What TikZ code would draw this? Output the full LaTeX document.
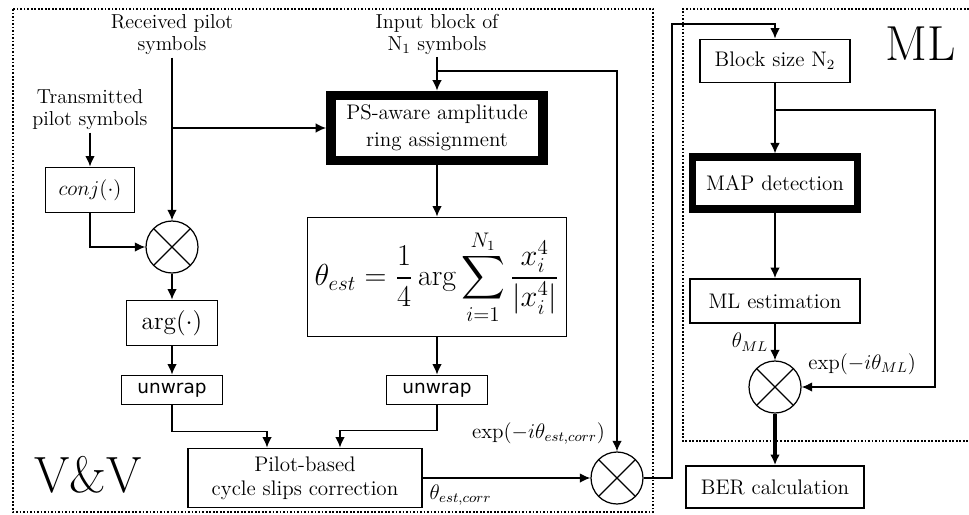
\documentclass[tikz,border=0pt]{standalone}
\usepackage{fontspec}
\usepackage{amsmath}
\usetikzlibrary{arrows.meta}
\newfontfamily\uwfont{DejaVu Sans}
\tikzset{
	blk/.style={draw, rectangle, align=center, inner sep=1pt},
	thk/.style={blk, line width=5.5pt},
	uw/.style={blk, minimum width=2.02cm, minimum height=0.58cm, font=\uwfont\fontsize{10.5}{12}\selectfont},
	mult/.style={draw, circle, line width=0.7pt, minimum size=1.04cm, inner sep=0pt,
		path picture={\draw[line width=0.7pt] (path picture bounding box.north east) -- (path picture bounding box.south west)
			(path picture bounding box.north west) -- (path picture bounding box.south east);}},
	lbl/.style={align=center, font=\fontsize{11.5}{12.5}\selectfont, inner sep=1pt}
}

\begin{document}
\begin{tikzpicture}[x=0.02cm, y=-0.02cm, line width=1pt, >={Latex[length=6pt,width=5.5pt]}, font=\fontsize{12}{13.5}\selectfont]
	\useasboundingbox (0,0) rectangle (969,514);
	
	% frames
	\draw[densely dotted] (13,9) rectangle (653,512);
	\draw[densely dotted] (969,9) -- (683,9) -- (683,441) -- (969,441);
	\node[font=\fontsize{29}{30}\selectfont] (vv) at (88,475) {V\&V};
	\node[font=\fontsize{28}{30}\selectfont] (ml) at (921,44) {ML};
	
	% inputs
	\node[lbl] (recv) at (172,35) {Received pilot\\symbols};
	\node[lbl] (trans) at (90,110) {Transmitted\\pilot symbols};
	\node[lbl] (inp) at (437,34) {Input block of\\N$_1$ symbols};
	
	% V&V blocks
	\node[blk, minimum width=1.78cm, minimum height=0.9cm] (conj) at (90,190) {$conj(\cdot)$};
	\node[mult] (m_1) at (172,247) {};
	\node[blk, minimum width=1.82cm, minimum height=0.9cm, font=\Large] (arg) at (172,323) {$\arg(\cdot)$};
	\node[uw] (uw_1) at (172,390) {unwrap};
	\node[thk, minimum width=4.24cm, minimum height=1.3cm] (ps) at (437,128) {PS-aware amplitude\\[2pt]ring assignment};
	\node[blk, minimum width=5.18cm, minimum height=2.38cm, font=\fontsize{17}{20}\selectfont] (est) at (437,277)
		{$\displaystyle \theta_{est} = \frac{1}{4}\arg\sum_{i=1}^{N_1}\frac{x_i^4}{|x_i^4|}$};
	\node[uw] (uw_2) at (437,390) {unwrap};
	\node[blk, minimum width=4.68cm, minimum height=1.18cm] (pilot) at (305,478) {Pilot-based\\cycle slips correction};
	\node[mult] (m_2) at (617,478) {};
	
	% ML blocks
	\node[blk, minimum width=3.0cm, minimum height=0.86cm] (block) at (775,61) {Block size N$_2$};
	\node[thk, line width=4pt, minimum width=3.3cm, minimum height=1.04cm] (map) at (775,183) {MAP detection};
	\node[blk, minimum width=3.4cm, minimum height=0.88cm] (mlest) at (775,301) {ML estimation};
	\node[mult] (m_3) at (775,387) {};
	\node[blk, minimum width=3.56cm, minimum height=0.84cm] (ber) at (775,487) {BER calculation};
	
	\coordinate (br_1) at (437,71);
	\coordinate (lp_1) at (672,24);
	\coordinate (br_2) at (775,110);
	\coordinate (lp_2) at (935,110);
	
	% V&V connections
	\draw[->] (trans) -- (conj);
	\draw[->] (recv) -- (m_1);
	\draw[->] (recv.south |- ps.west) -- (ps.west);
	\draw[->] (conj) |- (m_1);
	\draw[->] (m_1) -- (arg);
	\draw[->] (arg) -- (uw_1);
	\draw[->] (uw_1.south) -- ++(0,26) -| ([xshift=-0.76cm]pilot.north);
	\draw[->] (inp) -- (ps);
	\draw[->] (ps) -- (est);
	\draw[->] (est) -- (uw_2);
	\draw[->] (uw_2.south) -- ++(0,25) -| ([xshift=0.7cm]pilot.north);
	\draw[->] (br_1) -| (m_2) node[pos=1, above left, xshift=-3pt] {$\exp(-i\theta_{est,corr})$};
	\draw[->] (pilot) -- (m_2) node[pos=0, below right] {$\theta_{est,corr}$};
	
	% ML connections
	\draw[->] (m_2) -| (lp_1) -| (block);
	\draw[->] (block) -- (map);
	\draw[->] (br_2) -- (lp_2) |- (m_3) node[pos=1, above right, yshift=3pt] {$\exp(-i\theta_{ML})$};
	\draw[->] (map) -- (mlest);
	\draw[->] (mlest) -- (m_3) node[midway, left] {$\theta_{ML}$};
	\draw[->, line width=1.8pt] (m_3) -- (ber);
\end{tikzpicture}
\end{document}
